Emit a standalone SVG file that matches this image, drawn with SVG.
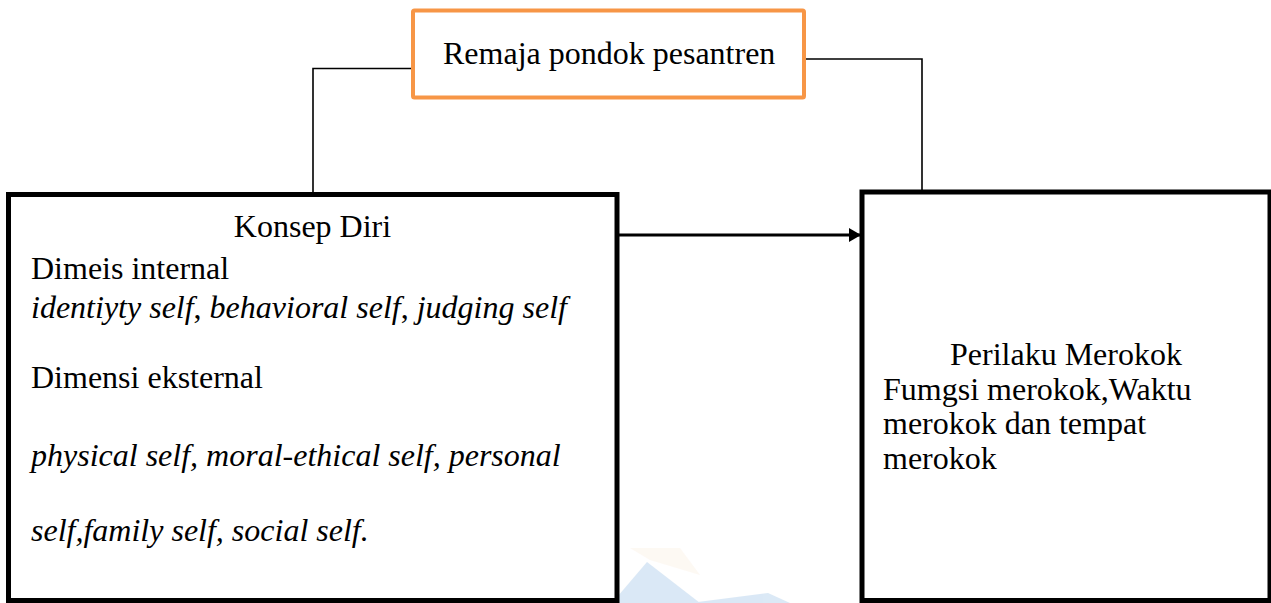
<svg xmlns="http://www.w3.org/2000/svg" width="1271" height="603" viewBox="0 0 1271 603">
<style>
.t{font-family:"Liberation Serif","Times New Roman",serif;font-size:32px;fill:#000}
.i{font-style:italic}
.box{fill:#fff;stroke:#000;stroke-width:5}
.thin{fill:none;stroke:#000;stroke-width:1.6}
</style>
<defs>
<marker id="ah" markerWidth="12" markerHeight="14" refX="12" refY="7" orient="auto" markerUnits="userSpaceOnUse">
<path d="M0,0 L12,7 L0,14 Z" fill="#000"/>
</marker>
</defs>
<rect width="1271" height="603" fill="#fff"/>
<g id="watermark" opacity="0.5">
<polygon points="647,562 612,603 700,603" fill="#b7d3ee"/>
<polygon points="690,603 768,593 790,603" fill="#b7d3ee"/>
<polygon points="630,548 680,548 700,575 650,560" fill="#fbe3c8" opacity="0.4"/>
</g>
<g id="connectors">
<polyline class="thin" points="413,76 413,68.5 313,68.5 313,194"/>
<polyline class="thin" points="804,64 804,59 922,59 922,192"/>
<line x1="619" y1="235" x2="861" y2="235" stroke="#000" stroke-width="2.8" marker-end="url(#ah)"/>
</g>
<g id="remaja">
<rect x="413" y="10.5" width="391" height="87" rx="1.5" fill="#fff" stroke="#f79646" stroke-width="4"/>
<text class="t" x="443" y="64">Remaja pondok pesantren</text>
</g>
<g id="konsep">
<rect class="box" x="8.5" y="194.5" width="608.5" height="406"/>
<text class="t" x="312.5" y="237" text-anchor="middle">Konsep Diri</text>
<text class="t" x="31" y="279">Dimeis internal</text>
<text class="t" x="31" y="318" font-size="33"><tspan class="i">identiyty self</tspan>, <tspan class="i">behavioral self</tspan>, <tspan class="i">judging self</tspan></text>
<text class="t" x="31" y="388">Dimensi eksternal</text>
<text class="t i" x="31" y="466">physical self, moral-ethical self, personal</text>
<text class="t i" x="31" y="541">self,family self, social self.</text>
</g>
<g id="perilaku">
<rect class="box" x="862" y="192" width="408" height="408.5"/>
<text class="t" x="950" y="365">Perilaku Merokok</text>
<text class="t" x="883" y="400">Fumgsi merokok,Waktu</text>
<text class="t" x="883" y="434">merokok dan tempat</text>
<text class="t" x="883" y="469">merokok</text>
</g>
</svg>
